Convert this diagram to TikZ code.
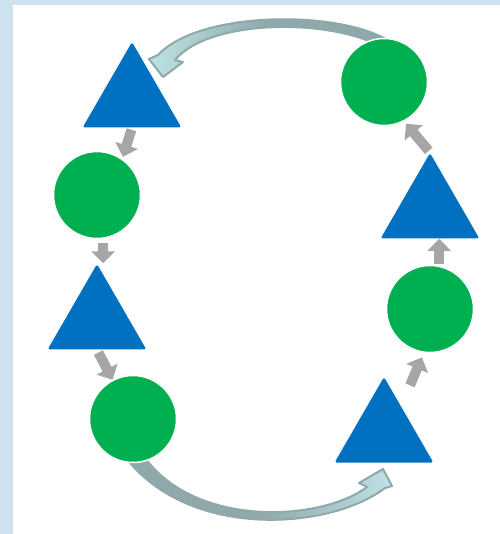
\documentclass[tikz,border=0pt]{standalone}
\usetikzlibrary{arrows.meta,shapes.geometric,calc,backgrounds}
\definecolor{tblue}{HTML}{0070C0}
\definecolor{cgreen}{HTML}{00B050}
\definecolor{agrey}{HTML}{A6A6A6}
\definecolor{adark}{HTML}{8FA8AA}
\definecolor{alight}{HTML}{BEE2E6}
\definecolor{bgblue}{HTML}{CDE2EE}
\begin{document}
\begin{tikzpicture}[x=0.02cm, y=-0.02cm,
  tri/.style={regular polygon, regular polygon sides=3, fill=tblue, inner sep=0pt, minimum size=2.28cm, rounded corners=1pt},
  disc/.style={circle, fill=cgreen, draw=white, line width=0.03cm, inner sep=0pt, minimum size=1.74cm},
  garrow/.style={draw=agrey, line width=0.2cm, -{Triangle[length=0.24cm,width=0.46cm]}},
  bigarrow/.style={draw=adark, line width=0.04cm, line join=round}]
\useasboundingbox (0,0) rectangle (500,534);
\foreach \n/\x/\y in {t1/132/99, t2/97/321, t3/384/434, t4/430/210} \node[tri] (\n) at (\x,\y) {};
\foreach \n/\x/\y in {c1/97/195, c2/133/419, c3/430/309, c4/384/82} \node[disc] (\n) at (\x,\y) {};
\begin{pgfonlayer}{background}
\fill[bgblue] (0,0) rectangle (500,534); \fill[white] (13,5) rectangle (500,534);
\path[bigarrow, left color=alight, right color=adark, middle color=adark] ($(c4)+(5,-41)$) .. controls +(-49,-31) and +(42,-45) .. ($(t1)+(26,-44)$) -- ($(t1)+(17,-40)$) -- ($(t1)+(31,-22)$) -- ($(t1)+(51,-37)$) -- ($(t1)+(43,-39)$) .. controls +(35,-42) and +(-50,-31) .. ($(c4)+(1,-33)$) -- cycle;
\path[bigarrow, left color=adark, right color=alight, middle color=adark] ($(c2)+(-7,39)$) .. controls +(64,82) and +(-55,42) .. ($(t3)+(1,54)$) -- ($(t3)+(8,52)$) -- ($(t3)+(-1,35)$) -- ($(t3)+(-25,49)$) -- ($(t3)+(-17,53)$) .. controls +(-47,35) and +(50,73) .. ($(c2)+(10,36)$) -- cycle;
\end{pgfonlayer}
\draw[garrow, shorten <=0.04cm, shorten >=0.04cm] (t1.south) -- (c1.55);
\draw[garrow, shorten <=0.08cm] (c1.278) -- (c1.278 |- t2.north);
\draw[garrow, shorten <=0.06cm] (t2.south) -- (c2);
\draw[garrow, shorten >=0.1cm] ($(t3.north)+(26,9)$) -- (c3.262);
\draw[garrow, shorten <=0.04cm] (c3.78) -- (c3.78 |- t4.south);
\draw[garrow, shorten <=0.04cm, shorten >=0.06cm] (t4.north) -- (c4.297);
\end{tikzpicture}
\end{document}
